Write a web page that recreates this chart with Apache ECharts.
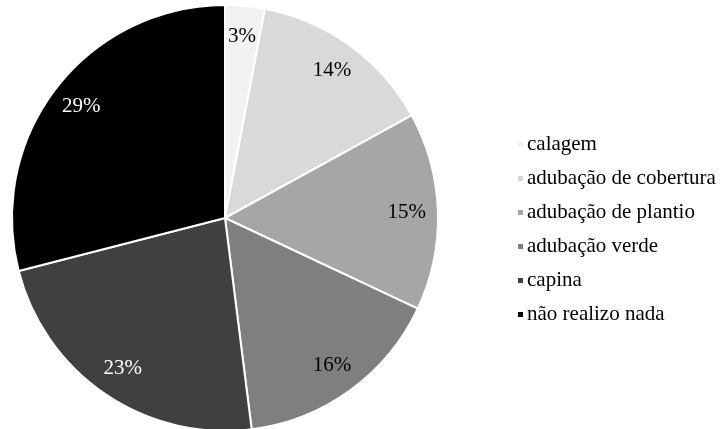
<!DOCTYPE html>
<html>
<head>
<meta charset="utf-8">
<script src="https://cdn.jsdelivr.net/npm/echarts@6/dist/echarts.min.js"></script>
<style>
  html, body { margin: 0; padding: 0; background: #fff; }
  #chart { width: 727px; height: 429px; }
</style>
</head>
<body>
<div id="chart"></div>
<script>
// Practices reported by respondents (percent)
const categories = ['calagem', 'adubação de cobertura', 'adubação de plantio', 'adubação verde', 'capina', 'não realizo nada'];
const values = [3, 14, 15, 16, 23, 29];
const colors = ['#f2f2f2', '#d9d9d9', '#a6a6a6', '#7f7f7f', '#404040', '#000000'];
const labelColors = ['#000', '#000', '#000', '#000', '#fff', '#fff'];

const FONT = '"Liberation Serif", "Times New Roman", serif';
const center = [225, 218];
const R = 213;

const sliceData = categories.map((name, i) => ({
  name,
  value: values[i],
  itemStyle: { color: colors[i] }
}));

// Transparent ring overlay: its inside labels sit near 84% of the radius
const labelData = categories.map((name, i) => ({
  name,
  value: values[i],
  label: { color: labelColors[i] }
}));

const chart = echarts.init(document.getElementById('chart'), null, { renderer: 'canvas' });
chart.setOption({
  animation: false,
  backgroundColor: '#fff',
  color: colors,
  legend: {
    orient: 'vertical',
    left: 511,
    top: 129,
    itemWidth: 7,
    itemHeight: 7,
    itemGap: 13,
    icon: 'rect',
    data: categories,
    textStyle: { fontFamily: FONT, fontSize: 21, color: '#000', padding: [0, 0, 0, -2] }
  },
  series: [
    {
      type: 'pie',
      center,
      radius: [0, R],
      startAngle: 90,
      clockwise: true,
      silent: true,
      label: { show: false },
      labelLine: { show: false },
      itemStyle: { borderColor: '#fff', borderWidth: 2 },
      data: sliceData
    },
    {
      type: 'pie',
      center,
      radius: [R * 0.68, R],
      startAngle: 90,
      clockwise: true,
      silent: true,
      itemStyle: { color: 'rgba(0,0,0,0)', borderWidth: 0 },
      label: {
        show: true,
        position: 'inside',
        formatter: '{c}%',
        fontFamily: FONT,
        fontSize: 21
      },
      labelLine: { show: false },
      data: labelData
    }
  ]
});
</script>
</body>
</html>
